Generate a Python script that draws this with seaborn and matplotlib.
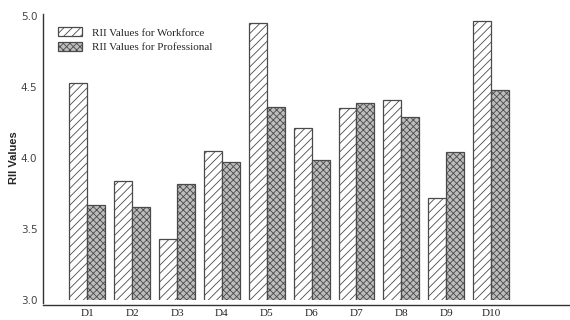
import matplotlib
matplotlib.use("Agg")
import matplotlib.pyplot as plt
import seaborn as sns
import pandas as pd

categories = ["D1", "D2", "D3", "D4", "D5", "D6", "D7", "D8", "D9", "D10"]
workforce = [4.53, 3.84, 3.43, 4.05, 4.95, 4.21, 4.35, 4.41, 3.72, 4.965]
professional = [3.67, 3.66, 3.82, 3.97, 4.36, 3.99, 4.39, 4.29, 4.04, 4.48]
series_names = ["RII Values for Workforce", "RII Values for Professional"]

df = pd.DataFrame({
    "cat": categories * 2,
    "val": workforce + professional,
    "series": [series_names[0]] * len(categories) + [series_names[1]] * len(categories),
})

sns.set_style("white")
plt.rcParams["hatch.linewidth"] = 0.6

fig = plt.figure(figsize=(5.7, 3.2), dpi=100)
ax = fig.add_axes([0.0754, 0.061, 0.93, 0.894])

sns.barplot(data=df, x="cat", y="val", hue="series", order=categories,
            hue_order=series_names, width=0.8, ax=ax, legend=False,
            palette=["white", "#c4c4c4"])

styles = [("white", "////"), ("#bdbdbd", "xxxxx")]
for cont, (fc, hatch) in zip(ax.containers, styles):
    for bar in cont:
        bar.set_facecolor(fc)
        bar.set_hatch(hatch)
        bar.set_edgecolor("#4a4a4a")
        bar.set_linewidth(0.9)

# spine placement first: moving a spine resets the axis tick formatting
for s in ["top", "right"]:
    ax.spines[s].set_visible(False)
for s in ["left", "bottom"]:
    ax.spines[s].set_color("#333333")
    ax.spines[s].set_linewidth(1.0)
ax.spines["bottom"].set_position(("outward", 3))

ax.set_ylim(3.0, 5.01)
ax.set_xlim(-0.99, 10.83)
ax.spines["left"].set_bounds(2.98, 5.01)
ax.set_yticks([3.0, 3.5, 4.0, 4.5, 5.0])
ax.set_yticklabels(["3.0", "3.5", "4.0", "4.5", "5.0"],
                   fontfamily="DejaVu Sans", fontsize=7.5, color="#444444")
ax.set_xticks(range(len(categories)))
ax.set_xticklabels(categories, fontfamily="Liberation Serif", fontsize=8)
ax.tick_params(axis="both", length=0)
ax.tick_params(axis="x", pad=3)
ax.tick_params(axis="y", pad=4)
ax.set_xlabel("")
ax.set_ylabel("RII Values", fontfamily="Liberation Sans", fontweight="bold",
              fontsize=8, labelpad=1)

handles = [cont[0] for cont in ax.containers]
leg = ax.legend(handles, series_names, loc="upper left", frameon=False,
                prop={"family": "Liberation Serif", "size": 8},
                bbox_to_anchor=(0.01, 0.99), handlelength=2.1, handleheight=0.9,
                labelspacing=0.35, handletextpad=0.9)

fig.savefig("out.png", dpi=100)
